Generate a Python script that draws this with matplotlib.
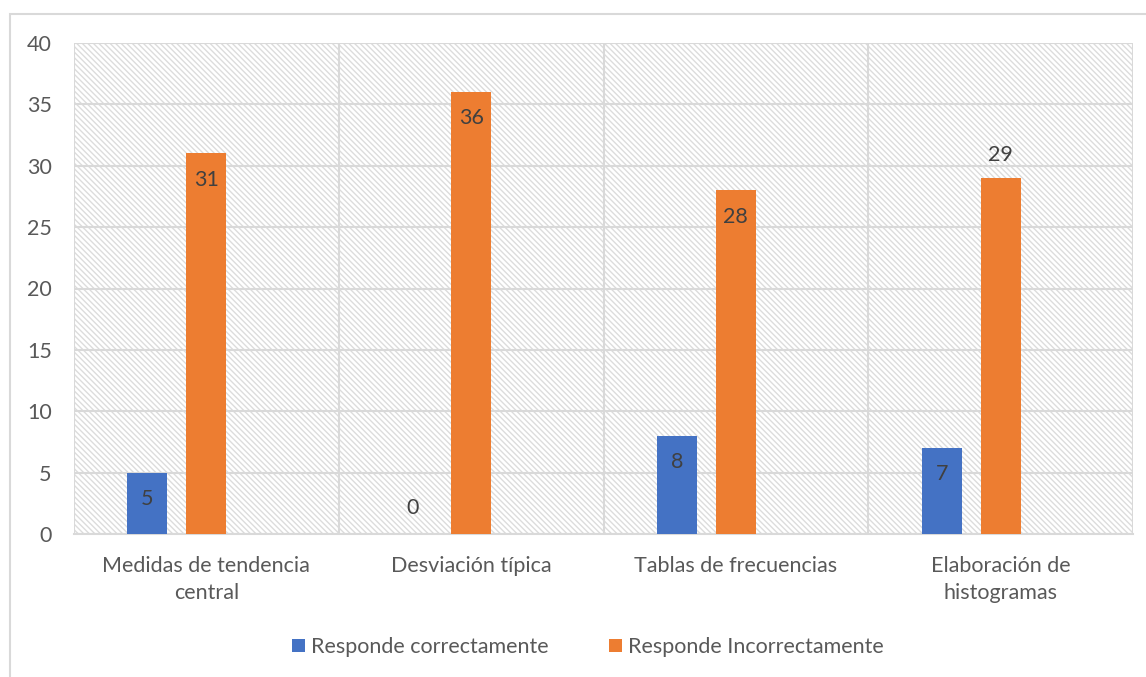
import matplotlib.pyplot as plt
from matplotlib.patches import Rectangle

categorias = ["Medidas de tendencia\ncentral", "Desviación típica",
              "Tablas de frecuencias", "Elaboración de\nhistogramas"]
correctas = [5, 0, 8, 7]
incorrectas = [31, 36, 28, 29]
series = ["Responde correctamente", "Responde Incorrectamente"]

AZUL = "#4472C4"
NARANJA = "#ED7D31"
GRIS = "#d9d9d9"
TEXTO = "#595959"

plt.rcParams["font.family"] = ["Lato", "DejaVu Sans"]
plt.rcParams["hatch.color"] = "#dcdcdc"
plt.rcParams["hatch.linewidth"] = 1.0

fig = plt.figure(figsize=(11.46, 6.77), dpi=100)
# marco exterior del grafico
fig.patches.append(Rectangle((10 / 1146, -0.01), 1.0, 1 - 14 / 677 + 0.01,
                             transform=fig.transFigure, fill=False,
                             edgecolor=GRIS, linewidth=1.5))

ax = fig.add_axes([74 / 1146, 1 - 534 / 677, (1133 - 74) / 1146, (534 - 43) / 677])
ax.add_patch(Rectangle((0, 0), 1, 1, transform=ax.transAxes, facecolor="white",
                       edgecolor="#dcdcdc", hatch="\\" * 6, linewidth=0, zorder=0))

x = range(len(categorias))
paso = 59 / 265
ancho = 40 / 265
b1 = ax.bar([i - paso for i in x], correctas, ancho, color=AZUL, label=series[0], zorder=3)
b2 = ax.bar(list(x), incorrectas, ancho, color=NARANJA, label=series[1], zorder=3)

# etiquetas de datos
fuera = {(1, 3)}
for s, barras in enumerate([b1, b2]):
    for i, r in enumerate(barras):
        v = r.get_height()
        cx = r.get_x() + r.get_width() / 2
        if v == 0:
            dy = 19
        elif (s, i) in fuera:
            dy = 16.5
        else:
            dy = -19
        ax.annotate(f"{int(v)}", (cx, v), xytext=(0, dy), textcoords="offset points",
                    ha="center", va="center", fontsize=15.5, color="#404040", zorder=4)

ax.set_ylim(0, 40)
ax.set_yticks(range(0, 41, 5))
ax.set_xlim(-0.5, 3.5)
ax.set_xticks(list(x))
ax.set_xticklabels(categorias, linespacing=1.45)
ax.set_xticks([-0.5, 0.5, 1.5, 2.5, 3.5], minor=True)
ax.tick_params(axis="both", which="both", length=0, labelsize=15.5, colors=TEXTO)
ax.tick_params(axis="x", pad=16)
ax.tick_params(axis="y", pad=16)
ax.grid(axis="y", color=GRIS, linewidth=1.5, zorder=1)
ax.grid(axis="x", which="minor", color=GRIS, linewidth=1.5, zorder=1)
ax.set_axisbelow(True)
for lado in ["top", "right", "left"]:
    ax.spines[lado].set_visible(False)
ax.spines["bottom"].set_color(GRIS)
ax.spines["bottom"].set_linewidth(1.5)

fig.legend(handles=[b1, b2], labels=series, loc="center", bbox_to_anchor=(588 / 1146, 1 - 647 / 677),
           ncol=2, frameon=False, fontsize=15.5, labelcolor=TEXTO, handlelength=0.6,
           handleheight=0.6, handletextpad=0.3, columnspacing=2.8)

fig.savefig("out.png", dpi=100)
